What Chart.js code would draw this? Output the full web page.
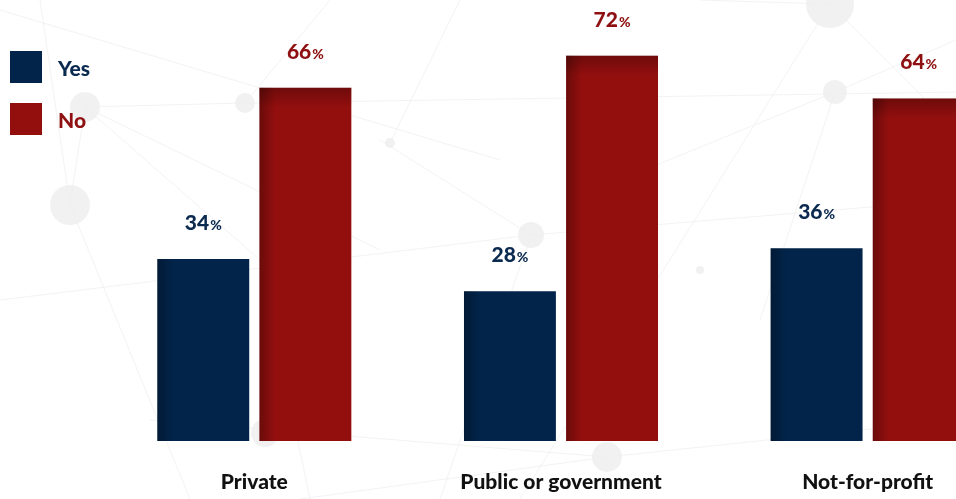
<!DOCTYPE html>
<html>
<head>
<meta charset="utf-8">
<script src="https://cdn.jsdelivr.net/npm/chart.js@4.4.1/dist/chart.umd.min.js"></script>
<style>
  html, body { margin: 0; padding: 0; background: #ffffff; overflow: hidden; }
  #wrap { position: relative; width: 956px; height: 499px; overflow: hidden; }
  #box { position: absolute; left: 0; top: 0; width: 1021px; height: 499px; }
  #legend { position: absolute; left: 10px; top: 51px; font-family: Lato, "Open Sans", sans-serif; font-weight: 900; font-size: 21px; }
  #legend .item { display: flex; align-items: center; height: 32px; margin-bottom: 20px; }
  #legend .sw { width: 32px; height: 32px; margin-right: 16px; }
</style>
</head>
<body>
<div id="wrap">
  <div id="box"><canvas id="chart"></canvas></div>
  <div id="legend"></div>
</div>
<script>
// Share of respondents by organisation type
const categories = ['Private', 'Public or government', 'Not-for-profit'];
const seriesNames = ['Yes', 'No'];
const yesValues = [34, 28, 36];
const noValues = [66, 72, 64];

const navy = '#02244a';
const red = '#930f0e';
const navyText = '#0b2a50';
const redText = '#8e1010';

// Faint network pattern behind the bars
const backdrop = {
  id: 'backdrop',
  beforeDraw(chart) {
    const ctx = chart.ctx;
    ctx.save();
    ctx.strokeStyle = 'rgba(232,232,232,0.5)';
    ctx.lineWidth = 1;
    const links = [
      [[85,107],[245,103]], [[245,103],[960,92]], [[85,107],[70,205]], [[85,107],[260,260]],
      [[85,107],[380,250]], [[70,205],[190,499]], [[70,205],[40,0]], [[0,10],[500,160]],
      [[245,103],[330,0]], [[830,4],[520,499]], [[830,4],[956,130]], [[830,4],[700,0]],
      [[835,92],[760,320]], [[835,92],[956,40]], [[835,92],[620,180]], [[607,457],[956,420]],
      [[607,457],[300,499]], [[150,420],[607,457]], [[531,235],[440,499]], [[531,235],[956,200]],
      [[531,235],[380,140]], [[390,143],[460,0]], [[260,260],[310,499]], [[0,300],[531,235]]
    ];
    links.forEach(([a, b]) => { ctx.beginPath(); ctx.moveTo(a[0], a[1]); ctx.lineTo(b[0], b[1]); ctx.stroke(); });
    ctx.fillStyle = 'rgba(238,238,238,0.85)';
    const nodes = [[85,107,15],[70,205,20],[245,103,10],[830,4,24],[835,92,12],[607,457,15],[265,433,14],[531,235,13],[390,143,5],[700,270,4]];
    nodes.forEach(([x, y, r]) => { ctx.beginPath(); ctx.arc(x, y, r, 0, Math.PI * 2); ctx.fill(); });
    ctx.restore();
  }
};

// Edge shading on each bar plus value labels above it
const barDecor = {
  id: 'barDecor',
  afterDatasetsDraw(chart) {
    const ctx = chart.ctx;
    chart.data.datasets.forEach((ds, di) => {
      const meta = chart.getDatasetMeta(di);
      meta.data.forEach((bar, i) => {
        const left = bar.x - bar.width / 2;
        const top = bar.y;
        const h = bar.base - bar.y;
        ctx.save();
        let g = ctx.createLinearGradient(left, 0, left + 16, 0);
        g.addColorStop(0, 'rgba(0,0,0,0.28)');
        g.addColorStop(1, 'rgba(0,0,0,0)');
        ctx.fillStyle = g;
        ctx.fillRect(left, top, 16, h);
        if (di === 1) {
          g = ctx.createLinearGradient(0, top, 0, top + 20);
          g.addColorStop(0, 'rgba(0,0,0,0.25)');
          g.addColorStop(1, 'rgba(0,0,0,0)');
          ctx.fillStyle = g;
          ctx.fillRect(left, top, bar.width, 20);
        }
        // value label: number with a smaller percent sign
        const num = String(ds.data[i]);
        ctx.fillStyle = di === 0 ? navyText : redText;
        ctx.textBaseline = 'alphabetic';
        ctx.font = '900 21px Lato, sans-serif';
        const wNum = ctx.measureText(num).width;
        ctx.font = '900 14px Lato, sans-serif';
        const wPct = ctx.measureText('%').width;
        const x0 = bar.x - (wNum + wPct + 1) / 2;
        const yb = top - 29;
        ctx.font = '900 21px Lato, sans-serif';
        ctx.fillText(num, x0, yb);
        ctx.font = '900 14px Lato, sans-serif';
        ctx.fillText('%', x0 + wNum + 1, yb);
        ctx.restore();
      });
    });
  }
};

const chart = new Chart(document.getElementById('chart'), {
  type: 'bar',
  data: {
    labels: categories,
    datasets: [
      { label: seriesNames[0], data: yesValues, backgroundColor: navy },
      { label: seriesNames[1], data: noValues, backgroundColor: red }
    ]
  },
  options: {
    responsive: true,
    maintainAspectRatio: false,
    animation: false,
    layout: { padding: { left: 101, right: 0, top: 0, bottom: 0 } },
    categoryPercentage: 0.666,
    barPercentage: 0.9,
    plugins: { legend: { display: false }, tooltip: { enabled: false } },
    scales: {
      x: {
        grid: { display: false, drawTicks: false },
        border: { display: false },
        ticks: { padding: 29, maxRotation: 0, color: '#111111', font: { family: 'Lato', weight: '900', size: 21 } },
        afterFit(scale) { scale.height = 58; }
      },
      y: {
        display: false,
        min: 0,
        max: 82.4
      }
    }
  },
  plugins: [backdrop, barDecor]
});

// Legend built from the dataset names and colours
const legend = document.getElementById('legend');
chart.data.datasets.forEach((ds, i) => {
  const item = document.createElement('div');
  item.className = 'item';
  const sw = document.createElement('div');
  sw.className = 'sw';
  sw.style.background = ds.backgroundColor;
  const txt = document.createElement('span');
  txt.textContent = ds.label;
  txt.style.color = i === 0 ? navyText : redText;
  item.appendChild(sw);
  item.appendChild(txt);
  legend.appendChild(item);
});
</script>
</body>
</html>
